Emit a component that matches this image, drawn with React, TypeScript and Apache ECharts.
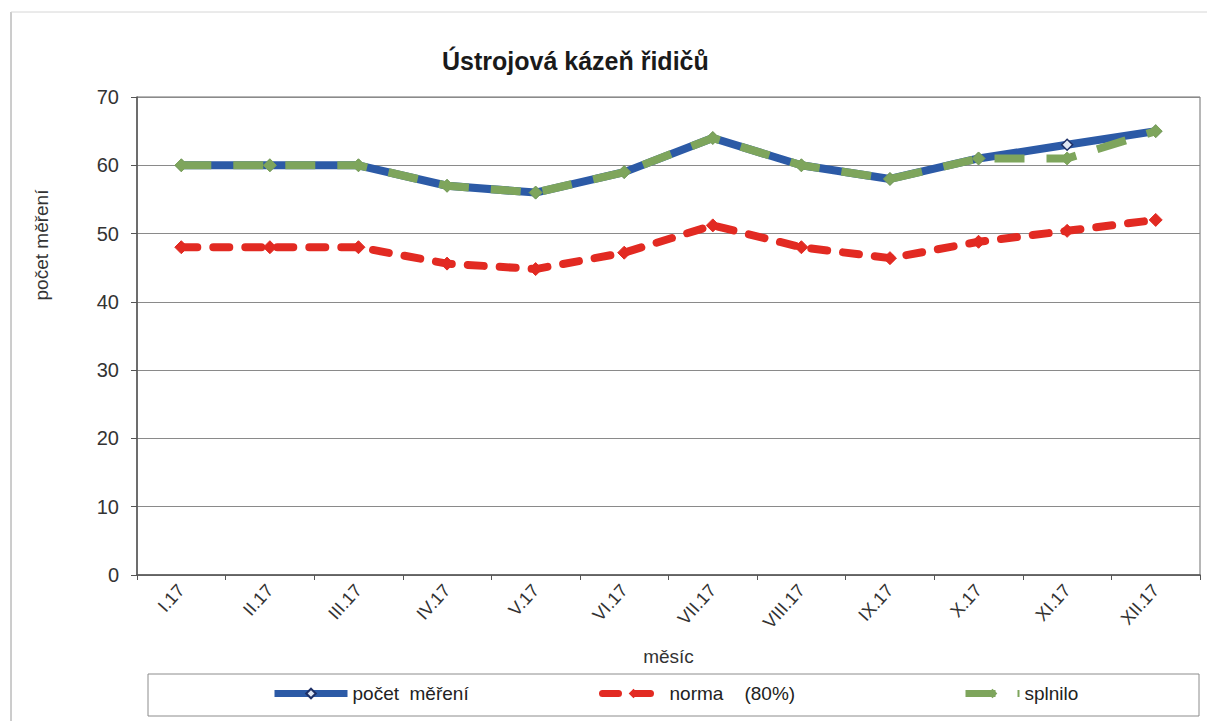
import React, { useEffect, useRef } from "react";
import * as echarts from "echarts";

const months = ["I.17", "II.17", "III.17", "IV.17", "V.17", "VI.17", "VII.17", "VIII.17", "IX.17", "X.17", "XI.17", "XII.17"];
const pocetMereni = [60, 60, 60, 57, 56, 59, 64, 60, 58, 61, 63, 65];
const norma80 = [48, 48, 48, 45.6, 44.8, 47.2, 51.2, 48, 46.4, 48.8, 50.4, 52];
const splnilo = [60, 60, 60, 57, 56, 59, 64, 60, 58, 61, 61, 65];
const yTicks = { min: 0, max: 70, interval: 10 };

const nameA = "počet  měření";
const nameB = "norma    (80%)";
const nameC = "splnilo";

const FONT = "'Liberation Sans', Arial, sans-serif";
const BLUE = "#2c5aa6";
const RED = "#e22a22";
const GREEN = "#7ea55c";

export default function App() {
  const ref = useRef<HTMLDivElement>(null);
  useEffect(() => {
    if (!ref.current) return;
    const chart = echarts.init(ref.current, null, { renderer: "svg" });
    const legendText = { fontFamily: FONT, fontSize: 19, color: "#222" };
    const legendBase = { top: 684, itemHeight: 12, itemGap: 0, textStyle: legendText, padding: 0, lineStyle: { width: 7 } };
    chart.setOption({
      animation: false,
      backgroundColor: "#fff",
      title: {
        text: "Ústrojová kázeň řidičů",
        left: 437,
        top: 43,
        textStyle: { fontFamily: FONT, fontSize: 25, fontWeight: "bold", color: "#1a1a1a" },
      },
      grid: {
        left: 137,
        right: 7,
        top: 97,
        bottom: 146,
        show: true,
        borderColor: "#6e6e6e",
        borderWidth: 1,
        backgroundColor: "transparent",
      },
      legend: [
        { ...legendBase, data: [nameA], left: 271, itemWidth: 73 },
        { ...legendBase, data: [nameB], left: 599, itemWidth: 62 },
        { ...legendBase, data: [nameC], left: 962, itemWidth: 54 },
      ],
      xAxis: {
        type: "category",
        data: months,
        boundaryGap: true,
        name: "měsíc",
        nameLocation: "middle",
        nameGap: 72,
        nameTextStyle: { fontFamily: FONT, fontSize: 19, color: "#333" },
        axisLine: { lineStyle: { color: "#555", width: 1.5 } },
        axisTick: { show: true, length: 5, lineStyle: { color: "#555" } },
        axisLabel: { rotate: 48, fontFamily: FONT, fontSize: 18, color: "#333", margin: 12 },
      },
      yAxis: {
        type: "value",
        min: yTicks.min,
        max: yTicks.max,
        interval: yTicks.interval,
        axisLine: { show: true, lineStyle: { color: "#555", width: 1.5 } },
        axisTick: { show: true, length: 6, lineStyle: { color: "#555" } },
        axisLabel: { fontFamily: FONT, fontSize: 20, color: "#333", margin: 18 },
        splitLine: { show: true, lineStyle: { color: "#8a8a8a", width: 1 } },
      },
      series: [
        {
          name: nameA,
          type: "line",
          data: pocetMereni,
          symbol: "diamond",
          symbolSize: 11,
          itemStyle: { color: "#dfe6f3", borderColor: "#1d2f66", borderWidth: 1.5 },
          lineStyle: { color: BLUE, width: 8 },
          z: 2,
        },
        {
          name: nameB,
          type: "line",
          data: norma80,
          symbol: "diamond",
          symbolSize: 13,
          itemStyle: { color: RED, borderColor: RED },
          lineStyle: { color: RED, width: 8, type: [16, 16], cap: "round" },
          z: 3,
        },
        {
          name: nameC,
          type: "line",
          data: splnilo,
          symbol: "diamond",
          symbolSize: 13,
          itemStyle: { color: GREEN, borderColor: GREEN },
          lineStyle: { color: GREEN, width: 8, type: [30, 22] },
          z: 4,
        },
      ],
      graphic: [
        {
          type: "text",
          x: 41,
          y: 245,
          rotation: Math.PI / 2,
          style: {
            text: "počet měření",
            fontFamily: FONT,
            fontSize: 19,
            fill: "#333",
            textAlign: "center",
            textVerticalAlign: "middle",
          },
        },
        {
          type: "rect",
          shape: { x: 148, y: 674, width: 1051, height: 42 },
          style: { fill: "none", stroke: "#8c8c8c", lineWidth: 1 },
          z: -1,
        },
        {
          type: "line",
          shape: { x1: 11, y1: 12, x2: 11, y2: 721 },
          style: { stroke: "#9a9a9a", lineWidth: 1 },
        },
        {
          type: "line",
          shape: { x1: 11, y1: 12, x2: 1207, y2: 12 },
          style: { stroke: "#d6d6d6", lineWidth: 1 },
        },
      ],
    });
    return () => chart.dispose();
  }, []);
  return <div ref={ref} style={{ position: "fixed", left: 0, top: 0, width: 1207, height: 721 }} />;
}
